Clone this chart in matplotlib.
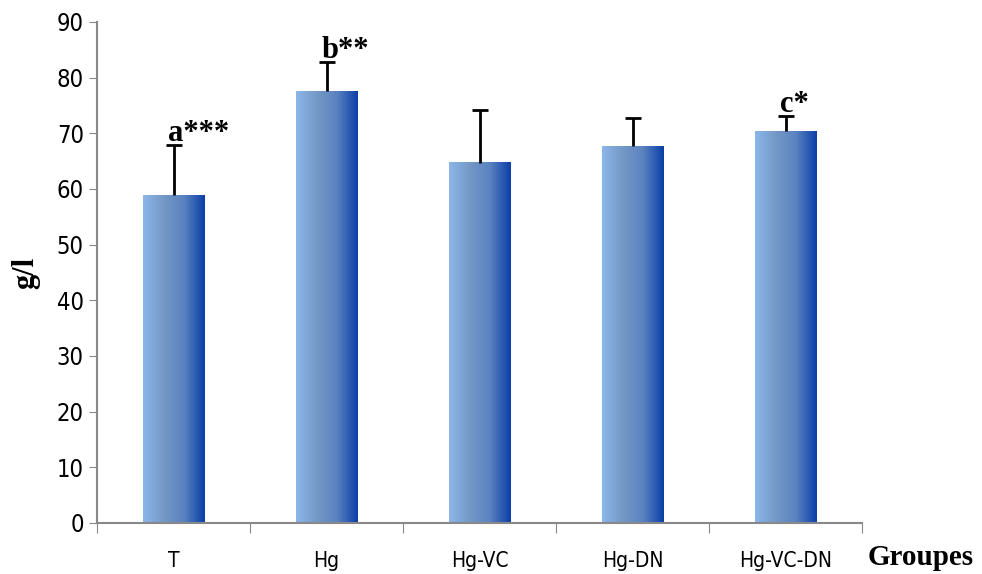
import numpy as np
import matplotlib.pyplot as plt
from matplotlib.colors import LinearSegmentedColormap

groupes = ["T", "Hg", "Hg-VC", "Hg-DN", "Hg-VC-DN"]
moyennes = [58.9, 77.6, 64.7, 67.7, 70.4]
erreurs = [9.0, 5.2, 9.5, 5.0, 2.7]
lettres = ["a***", "b**", "", "", "c*"]

NARROW = ["Liberation Sans Narrow", "DejaVu Sans"]
SERIF = ["Liberation Serif", "DejaVu Serif"]

grad = LinearSegmentedColormap.from_list(
    "bar_grad", ["#8cb6ea", "#7499c6", "#5a82c0", "#0a3fa8"])

fig = plt.figure(figsize=(9.82, 5.74), dpi=100)
ax = fig.add_axes([0.0988, 0.0889, 0.7790, 0.8728])

x = np.arange(len(groupes))
largeur = 0.4
bars = ax.bar(x, moyennes, width=largeur, color="none", zorder=2)
ramp = np.linspace(0, 1, 256).reshape(1, -1)
for b in bars:
    x0, w, h = b.get_x(), b.get_width(), b.get_height()
    ax.imshow(ramp, cmap=grad, aspect="auto", extent=[x0, x0 + w, 0, h],
              zorder=2, interpolation="bicubic")

eb = ax.errorbar(x, moyennes, yerr=[np.zeros(len(erreurs)), erreurs], fmt="none",
                 ecolor="black", elinewidth=2, capsize=6, capthick=2, zorder=3)
# pas de trait en bas, seulement la barre vers le haut
eb[1][0].set_visible(False)

for xi, m, e, lab in zip(x, moyennes, erreurs, lettres):
    if lab:
        ax.text(xi - 0.035, m + e - 0.6, lab, ha="left", va="bottom",
                fontsize=22, fontweight="bold", family=SERIF, zorder=4)

ax.set_xlim(-0.5, len(groupes) - 0.5)
ax.set_ylim(0, 90)
ax.set_yticks(range(0, 91, 10))
ax.set_xticks(np.arange(-0.5, len(groupes), 1.0))
ax.set_xticklabels([])
ax.set_xticks(x, minor=True)
ax.set_xticklabels(groupes, minor=True, family=NARROW, fontsize=15, fontstretch="condensed")
ax.tick_params(axis="x", which="minor", length=0, pad=20)
ax.tick_params(axis="x", which="major", length=7, color="#888888", direction="out")
ax.tick_params(axis="y", length=6, color="#888888", direction="out", labelsize=17)
for t in ax.get_yticklabels():
    t.set_family(NARROW)
    t.set_fontstretch("condensed")

for s in ["top", "right"]:
    ax.spines[s].set_visible(False)
for s in ["left", "bottom"]:
    ax.spines[s].set_color("#888888")
    ax.spines[s].set_linewidth(1.5)

ax.set_ylabel("g/l", fontsize=22, fontweight="bold", family=SERIF, labelpad=12)
fig.text(0.884, 0.005, "Groupes", fontsize=21, fontweight="bold", family=SERIF,
         ha="left", va="bottom")

fig.savefig("out.png", dpi=100)
